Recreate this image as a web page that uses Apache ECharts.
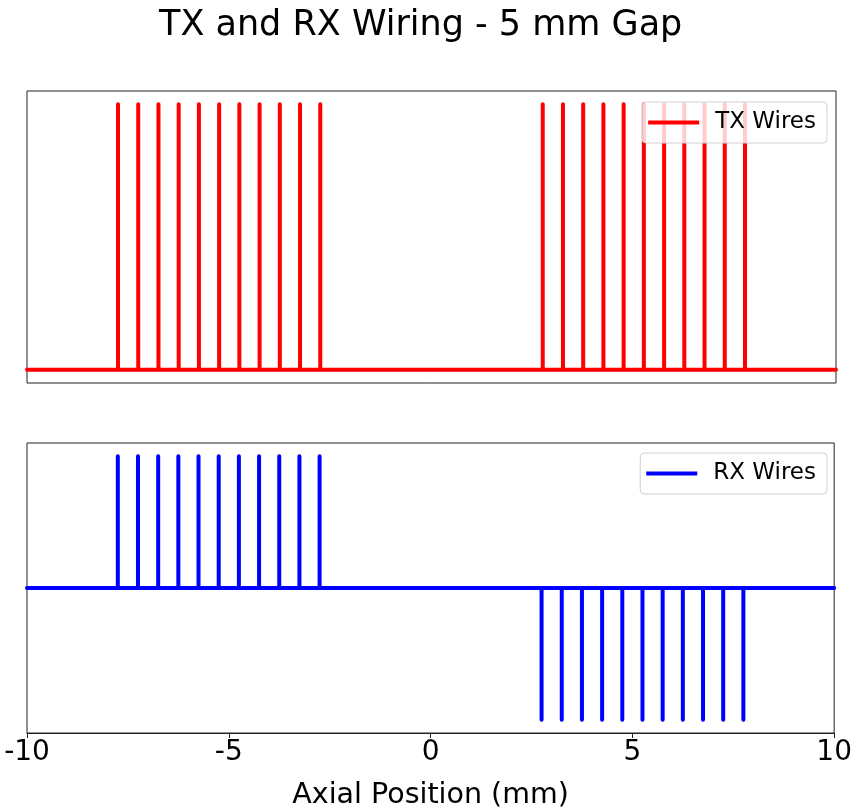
<!DOCTYPE html>
<html>
<head>
<meta charset="utf-8">
<script src="https://cdn.jsdelivr.net/npm/echarts@6/dist/echarts.min.js"></script>
<style>
html,body{margin:0;padding:0;background:#fff;}
#c{width:855px;height:811px;}
</style>
</head>
<body>
<div id="c"></div>
<script>
// ---- data ----
var xRange = [-10, 10];
var xTicks = [-10, -5, 0, 5, 10];
var txPositions = [-7.75, -7.25, -6.75, -6.25, -5.75, -5.25, -4.75, -4.25, -3.75, -3.25, -2.75,
                   2.75, 3.25, 3.75, 4.25, 4.75, 5.25, 5.75, 6.25, 6.75, 7.25, 7.75];
var txValues    = [1, 1, 1, 1, 1, 1, 1, 1, 1, 1, 1,
                   1, 1, 1, 1, 1, 1, 1, 1, 1, 1, 1];
var rxPositions = [-7.75, -7.25, -6.75, -6.25, -5.75, -5.25, -4.75, -4.25, -3.75, -3.25, -2.75,
                   2.75, 3.25, 3.75, 4.25, 4.75, 5.25, 5.75, 6.25, 6.75, 7.25, 7.75];
var rxValues    = [1, 1, 1, 1, 1, 1, 1, 1, 1, 1, 1,
                   -1, -1, -1, -1, -1, -1, -1, -1, -1, -1, -1];

function buildTrace(pos, vals) {
  var d = [[xRange[0], 0]];
  for (var i = 0; i < pos.length; i++) {
    d.push([pos[i], 0]);
    d.push([pos[i], vals[i]]);
    d.push([pos[i], 0]);
  }
  d.push([xRange[1], 0]);
  return d;
}

var chart = echarts.init(document.getElementById('c'), null, {renderer: 'canvas'});
var FONT = 'DejaVu Sans';
var border = '#222';

function xAxisCfg(idx, showLabels) {
  return {
    type: 'value', gridIndex: idx, min: xRange[0], max: xRange[1], interval: 5,
    axisLine: {show: showLabels, onZero: false, lineStyle: {color: border, width: 1}},
    axisTick: {show: showLabels, length: 5, lineStyle: {color: border}},
    axisLabel: {show: showLabels, fontFamily: FONT, fontSize: 28, color: '#000', margin: 6,
      formatter: function (v) { return String(v); }},
    splitLine: {show: false},
    name: showLabels ? 'Axial Position (mm)' : '',
    nameLocation: 'middle', nameGap: 48,
    nameTextStyle: {fontFamily: FONT, fontSize: 28.5, color: '#000'}
  };
}
function yAxisCfg(idx, mn, mx) {
  return {
    type: 'value', gridIndex: idx, min: mn, max: mx,
    axisLine: {show: false, onZero: false},
    axisTick: {show: false}, axisLabel: {show: false}, splitLine: {show: false}
  };
}
function legendCfg(name, top) {
  return {
    data: [name], right: 28, top: top, orient: 'vertical',
    itemWidth: 51, itemHeight: 4,
    padding: [9, 11, 9, 6],
    backgroundColor: 'rgba(255,255,255,0.8)',
    borderColor: '#d0d0d0', borderWidth: 1, borderRadius: 4,
    textStyle: {fontFamily: FONT, fontSize: 23, color: '#000', padding: [0, 0, 0, 11]},
    icon: 'rect'
  };
}

chart.setOption({
  animation: false,
  backgroundColor: '#fff',
  title: {
    text: 'TX and RX Wiring - 5 mm Gap', left: 154, top: 3,
    textStyle: {fontFamily: FONT, fontSize: 35, fontWeight: 'normal', color: '#000'}
  },
  grid: [
    {left: 27, right: 19, top: 91, height: 292, show: true, borderColor: border, borderWidth: 1, backgroundColor: '#fff'},
    {left: 27, right: 19, top: 443, height: 290, show: true, borderColor: border, borderWidth: 1, backgroundColor: '#fff'}
  ],
  xAxis: [xAxisCfg(0, false), xAxisCfg(1, true)],
  yAxis: [yAxisCfg(0, -0.05, 1.05), yAxisCfg(1, -1.1, 1.1)],
  legend: [legendCfg('TX Wires', 102), legendCfg('RX Wires', 453)],
  series: [
    {
      name: 'TX Wires', type: 'line', xAxisIndex: 0, yAxisIndex: 0,
      data: buildTrace(txPositions, txValues),
      symbol: 'none', color: '#ff0000',
      lineStyle: {width: 4, color: '#ff0000', cap: 'round', join: 'round'},
      clip: true
    },
    {
      name: 'RX Wires', type: 'line', xAxisIndex: 1, yAxisIndex: 1,
      data: buildTrace(rxPositions, rxValues),
      symbol: 'none', color: '#0000ff',
      lineStyle: {width: 4, color: '#0000ff', cap: 'round', join: 'round'},
      clip: true
    }
  ]
});
</script>
</body>
</html>
